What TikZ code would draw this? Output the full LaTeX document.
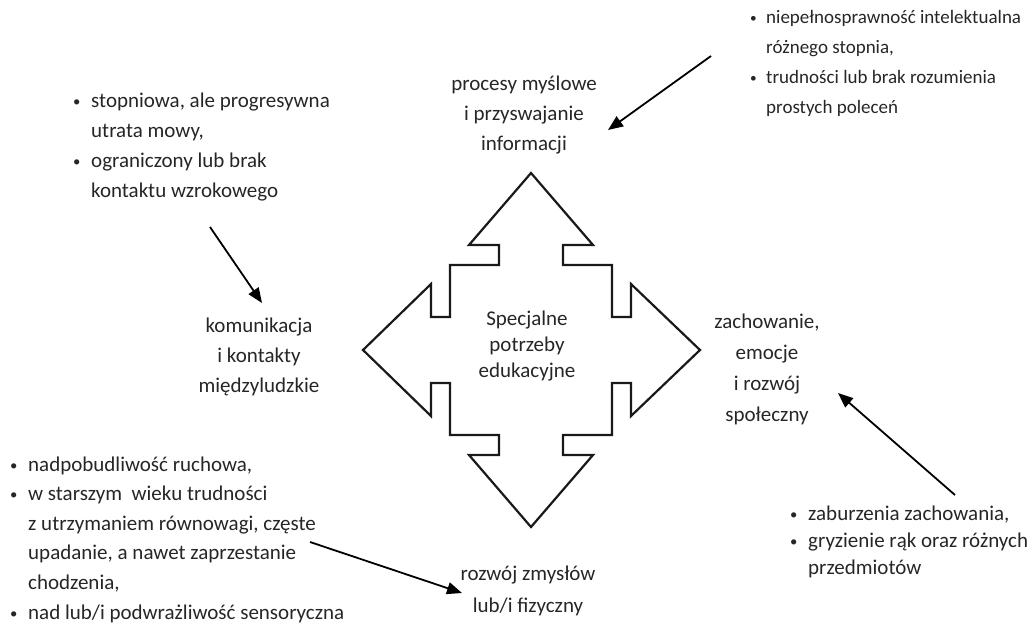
\documentclass[tikz,border=0pt]{standalone}
\usepackage{fontspec}
\usepackage{graphicx}
\setmainfont{Carlito}
\usetikzlibrary{arrows.meta}
\newcommand{\bul}{\makebox[18pt][l]{\raisebox{1pt}{\scalebox{0.7}{•}}}}
\newcommand{\ind}{\hspace*{18pt}}
\newcommand{\bulb}{\makebox[16pt][l]{\raisebox{1pt}{\scalebox{0.7}{•}}}}
\newcommand{\indb}{\hspace*{16pt}}
\tikzset{
  txt/.style={inner sep=0pt, font=\fontsize{21}{30}\selectfont, text=black!85},
  lst/.style={txt, anchor=base west},
  lbl/.style={txt, anchor=base},
  conn/.style={line width=1.8pt, -{Triangle[length=15pt,width=12pt]}},
  crossline/.style={line width=2.2pt, line join=miter, draw=black!90}
}
\begin{document}
\begin{tikzpicture}[x=1pt,y=-1pt]
\useasboundingbox (0,0) rectangle (1033,625);
% central cross of four arrows
\draw[crossline] (531,350) ++(0,-177) -- ++(62,72) -- ++(-30,0) -- ++(0,20) -- ++(49,0)
  -- ++(0,52) -- ++(19,0) -- ++(0,-33) -- ++(69,66) -- ++(-69,66) -- ++(0,-33)
  -- ++(-19,0) -- ++(0,52) -- ++(-49,0) -- ++(0,20) -- ++(30,0) -- ++(-62,72)
  -- ++(-62,-72) -- ++(30,0) -- ++(0,-20) -- ++(-49,0) -- ++(0,-52) -- ++(-19,0)
  -- ++(0,33) -- ++(-68,-66) -- ++(68,-66) -- ++(0,33) -- ++(19,0) -- ++(0,-52)
  -- ++(49,0) -- ++(0,-20) -- ++(-30,0) -- cycle;
\node[lbl] (sep) at (527,325) {\begin{tabular}[t]{@{}c@{}}Specjalne\\[-4pt] potrzeby\\[-4pt] edukacyjne\end{tabular}};
% category labels
\node[lbl] (proc) at (524,90) {\begin{tabular}[t]{@{}c@{}}procesy myślowe\\ i przyswajanie\\ informacji\end{tabular}};
\node[lbl] (kom) at (259,332) {\begin{tabular}[t]{@{}c@{}}komunikacja\\ i kontakty\\ międzyludzkie\end{tabular}};
\node[lbl] (zach) at (767,328) {\begin{tabular}[t]{@{}c@{}}zachowanie,\\[1pt] emocje\\[1pt] i rozwój\\[1pt] społeczny\end{tabular}};
\node[lbl] (rozw) at (528,580) {\begin{tabular}[t]{@{}c@{}}rozwój zmysłów\\[2pt] lub/i fizyczny\end{tabular}};
% lists
\node[lst, font=\fontsize{19}{30}\selectfont] (tr) at (750,23) {\begin{tabular}[t]{@{}l@{}}\bulb niepełnosprawność intelektualna\\ \indb różnego stopnia,\\ \bulb trudności lub brak rozumienia\\ \indb prostych poleceń\end{tabular}};
\node[lst] (tl) at (73,107) {\begin{tabular}[t]{@{}l@{}}\bul stopniowa, ale progresywna\\ \ind utrata mowy,\\ \bul ograniczony lub brak\\ \ind kontaktu wzrokowego\end{tabular}};
\node[lst] (bl) at (10,471) {\begin{tabular}[t]{@{}l@{}}\bul nadpobudliwość ruchowa,\\[-0.4pt] \bul w starszym\ \ wieku trudności\\[-0.4pt] \ind z utrzymaniem równowagi, częste\\[-0.4pt] \ind upadanie, a nawet zaprzestanie\\[-0.4pt] \ind chodzenia,\\[-0.4pt] \bul nad lub/i podwrażliwość sensoryczna\end{tabular}};
\node[lst] (br) at (790,520) {\begin{tabular}[t]{@{}l@{}}\bul zaburzenia zachowania,\\[-3pt] \bul gryzienie rąk oraz różnych\\[-3pt] \ind przedmiotów\end{tabular}};
% connectors
\coordinate (tlA) at (210,227); \coordinate (tlB) at (262,303);
\coordinate (trA) at (711,56);  \coordinate (trB) at (608,130);
\coordinate (brA) at (955,495); \coordinate (brB) at (838,393);
\coordinate (blA) at (310,542); \coordinate (blB) at (462,593);
\draw[conn] (tlA) -- (tlB);
\draw[conn] (trA) -- (trB);
\draw[conn] (brA) -- (brB);
\draw[conn] (blA) -- (blB);
\end{tikzpicture}
\end{document}
